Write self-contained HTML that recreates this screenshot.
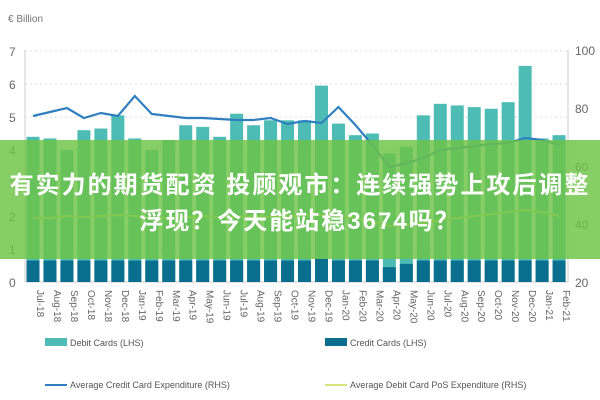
<!DOCTYPE html>
<html><head><meta charset="utf-8"><style>
body{margin:0;background:#fff;width:600px;height:400px;overflow:hidden;font-family:"Liberation Sans",sans-serif}
svg{position:absolute;left:0;top:0}
.ov{position:absolute;left:0;top:140px;width:600px;height:119px;background:rgba(110,195,70,0.82)}
.t{position:absolute;left:0;width:600px;text-align:center;color:#fff;font:bold 24px "Liberation Sans","Noto Sans CJK SC",sans-serif;letter-spacing:2px;white-space:nowrap}
</style></head><body>
<svg id="s" width="600" height="400" xmlns="http://www.w3.org/2000/svg"></svg>
<div class="ov"></div>
<div class="t" style="top:165px">有实力的期货配资 投顾观市：连续强势上攻后调整</div>
<div class="t" style="top:201px">浮现？今天能站稳3674吗？</div>
<script>
const s=document.getElementById('s');let h='';
const ly=v=>282-v*33, ry=v=>282-(v-20)*2.9;
h+='<text x="8" y="22" font-size="10" fill="#777">€ Billion</text>';
for(let v=0;v<=7;v++){h+=`<line x1="25" x2="568" y1="${ly(v)}" y2="${ly(v)}" stroke="#ddd" stroke-dasharray="2,3"/>`;h+=`<text x="9" y="${ly(v)+5}" font-size="12" fill="#666">${v}</text>`;}
for(let v=20;v<=100;v+=20)h+=`<text x="575" y="${ry(v)+5}" font-size="12" fill="#666">${v}</text>`;
h+='<line x1="25" x2="25" y1="50" y2="282" stroke="#ccc"/><line x1="568" x2="568" y1="50" y2="282" stroke="#ccc"/><line x1="25" x2="568" y1="282" y2="282" stroke="#ccc"/>';
const deb=[4.4,4.35,4.0,4.6,4.65,5.05,4.35,4.0,4.3,4.75,4.7,4.4,5.1,4.75,4.9,4.9,4.9,5.95,4.8,4.45,4.5,3.9,4.1,5.05,5.4,5.35,5.3,5.25,5.45,6.55,4.35,4.45];
const cr=[.65,.65,.65,.65,.65,.65,.65,.65,.65,.65,.65,.65,.65,.65,.65,.65,.65,.7,.65,.65,.65,.45,.55,.65,.65,.65,.65,.65,.65,.65,.65,.65];
const m=['Jul','Aug','Sep','Oct','Nov','Dec','Jan','Feb','Mar','Apr','May','Jun'];
const bl=[116,112,108,118,113,116,96,114,116,118,118,119,120,120,118,124,121,123,107,125,145,167,163,158,150,148,146,144,143,138,140,145];
const gl=[218,218,216,217,216,215,216,218,218,217,216,217,217,216,217,216,215,215,216,218,222,226,225,223,220,218,216,214,212,210,212,216];
let pb='',pg='';
for(let i=0;i<32;i++){const x=33+i*16.97;
h+=`<rect x="${x-6.5}" y="${ly(deb[i])}" width="13" height="${282-ly(deb[i])}" fill="#4dbcb4"/>`;
h+=`<rect x="${x-6.5}" y="${ly(cr[i])}" width="13" height="${282-ly(cr[i])}" fill="#0a6f8e"/>`;
pb+=(i?'L':'M')+x+','+bl[i];pg+=(i?'L':'M')+x+','+gl[i];
const yr=18+Math.floor((i+6)/12);
h+=`<text transform="translate(${x+4},290) rotate(90)" font-size="10" fill="#666">${m[i%12]}-${yr}</text>`;}
h+=`<path d="${pb}" fill="none" stroke="#2f7fc0" stroke-width="2.2"/><path d="${pg}" fill="none" stroke="#d8e27a" stroke-width="2"/>`;
h+='<rect x="45" y="338" width="22" height="8" fill="#4dbcb4"/><text x="70" y="346" font-size="9" fill="#555">Debit Cards (LHS)</text>';
h+='<rect x="325" y="338" width="22" height="8" fill="#0a6f8e"/><text x="350" y="346" font-size="9" fill="#555">Credit Cards (LHS)</text>';
h+='<line x1="45" x2="67" y1="385" y2="385" stroke="#2f7fc0" stroke-width="2"/><text x="70" y="388" font-size="9" fill="#555">Average Credit Card Expenditure (RHS)</text>';
h+='<line x1="325" x2="347" y1="385" y2="385" stroke="#d8e27a" stroke-width="2"/><text x="350" y="388" font-size="9" fill="#555">Average Debit Card PoS Expenditure (RHS)</text>';
s.innerHTML=h;
</script>
</body></html>
